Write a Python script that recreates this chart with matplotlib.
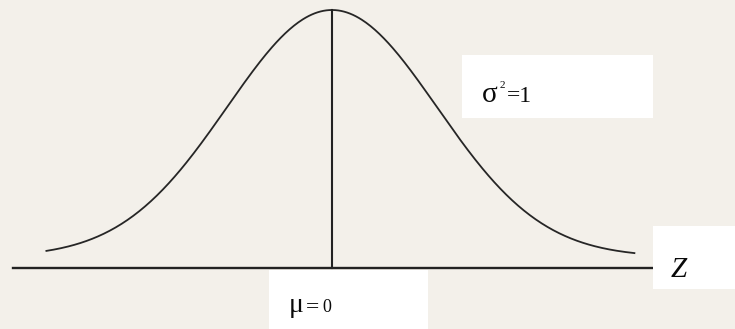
import numpy as np
import matplotlib
matplotlib.use("Agg")
import matplotlib.pyplot as plt
from matplotlib.patches import Rectangle

# Data: standard normal distribution
mu = 0.0
sigma2 = 1.0
z_start, z_end = -2.72, 2.88

z = np.linspace(z_start, z_end, 400)
pdf = np.exp(-(z - mu) ** 2 / (2 * sigma2)) / np.sqrt(2 * np.pi * sigma2)
peak = 1 / np.sqrt(2 * np.pi * sigma2)

W, H = 735, 329
fig = plt.figure(figsize=(W / 100, H / 100), dpi=100)
bg = "#f3f0ea"
fig.patch.set_facecolor(bg)
ax = fig.add_axes([0, 0, 1, 1])
ax.set_facecolor(bg)
ax.axis("off")

sx = 105.0  # px per z unit
sy = 247.0 / peak  # px per pdf unit
ax.set_xlim(-332 / sx, (W - 332) / sx)
ax.set_ylim(-(H - 257) / sy, 257 / sy)

ax.plot(z, pdf, color="#262626", lw=1.3, zorder=2)
y_axis = -11 / sy
ax.plot([-319 / sx, 323 / sx], [y_axis, y_axis], color="#222222", lw=1.7, zorder=2)
ax.plot([mu, mu], [y_axis, peak], color="#222222", lw=1.5, zorder=2)

def box(x0, y0, x1, y1):
    fig.patches.append(Rectangle((x0 / W, 1 - y1 / H), (x1 - x0) / W, (y1 - y0) / H,
                                 transform=fig.transFigure, facecolor="white",
                                 edgecolor="none", zorder=3))

box(462, 55, 653, 118)
box(269, 270, 428, 329)
box(653, 226, 740, 289)

serif = ["Liberation Serif", "DejaVu Serif"]

def txt(x, y, s, size, **kw):
    fig.text(x / W, 1 - y / H, s, family=serif, fontsize=size, va="baseline",
             ha="left", color="#0a0a0a", zorder=4, **kw)

# σ²=1
txt(482, 102, "σ", 21)
txt(500, 88, "2", 8)
txt(507, 102, "=1", 17)
# μ=0
txt(289, 312, "μ", 20)
txt(306, 313, "=", 17)
txt(322, 312, "0", 13)
# Z
txt(671, 277, "Z", 21, style="italic")

fig.savefig("out.png", dpi=100, facecolor=bg)
